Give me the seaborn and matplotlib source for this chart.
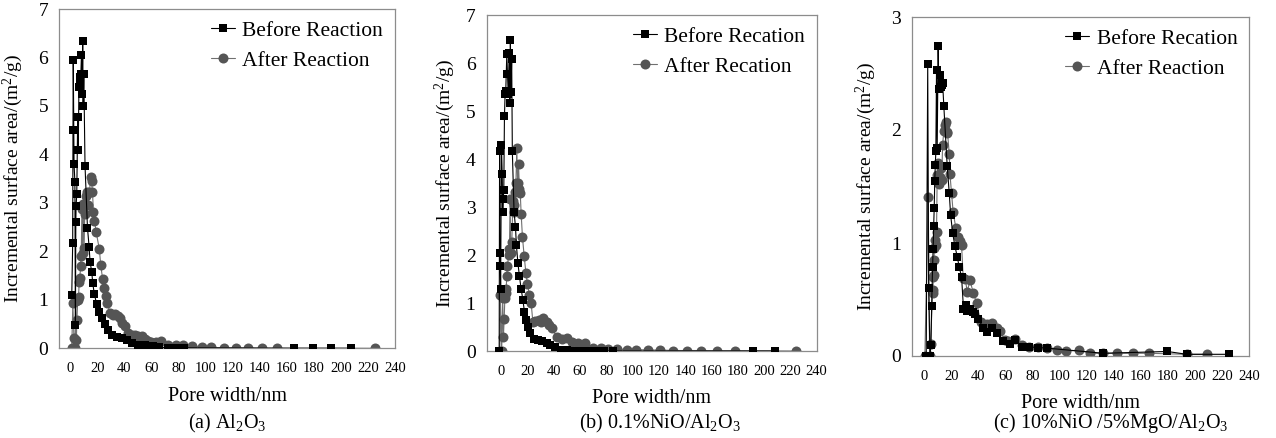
import matplotlib
matplotlib.use("Agg")
import matplotlib.pyplot as plt
import seaborn as sns

# ---------------- data ----------------
# Panel (a) Al2O3
a_before_x = [1.2, 1.9, 2.1, 2.3, 2.9, 3.5, 3.9, 4.2, 4.4, 4.9, 5.6, 6.0, 6.5, 7.0, 7.4, 7.9, 8.4, 8.9,
              9.3, 9.6, 10.1, 11.0, 12.8, 14.0, 14.7, 16.0, 16.7, 17.9, 19.6, 21.6, 23.3, 25.8, 28.2,
              30.7, 34.4, 38.0, 41.7, 45.4, 50.3, 55.0, 61.0, 66.0, 72.0, 78.0, 84.0,
              165.7, 179.2, 192.7, 207.4]
a_before_y = [1.09, 2.18, 4.5, 5.95, 3.8, 3.44, 0.48, 2.6, 2.94, 3.18, 4.77, 4.1, 5.4, 5.54, 5.6, 5.65,
              6.06, 5.24, 6.35, 5.0, 5.65, 3.77, 2.49, 2.1, 1.79, 1.57, 1.34, 1.12, 0.91, 0.75, 0.62,
              0.51, 0.37, 0.27, 0.24, 0.22, 0.18, 0.10, 0.06, 0.06, 0.04, 0.02, 0.01, 0.01, 0.01,
              0.0, 0.0, 0.0, 0.0]
a_after_x = [1.2, 2.0, 2.8, 3.5, 4.2, 4.6, 5.0, 5.6, 6.2, 6.7, 7.2, 7.7, 8.2, 8.7, 9.2, 9.8, 10.3, 10.8,
             11.5, 12.3, 13.0, 13.5, 14.3, 15.2, 15.8, 16.5, 17.2, 18.0, 19.3, 21.6, 22.6, 24.0, 25.2,
             26.5, 27.5, 29.5, 31.5, 33.2, 35.0, 36.5, 38.5, 40.5, 43.0, 45.5, 47.9, 50.5, 53.0, 55.5,
             57.7, 60.0, 63.5, 67.5, 72.4, 78.0, 83.4, 90.3, 97.7, 104.3, 113.4, 122.2, 131.3, 141.9,
             152.9, 225.0]
a_after_y = [0.0, 0.93, 0.22, 0.0, 0.97, 0.18, 0.58, 1.0, 1.06, 1.36, 1.45, 1.69, 1.9, 2.87, 1.97, 2.98,
             2.06, 2.78, 3.15, 3.22, 2.95, 3.2, 3.22, 3.53, 3.45, 3.23, 2.82, 2.63, 2.39, 2.04, 1.72,
             1.43, 1.25, 1.07, 0.94, 0.72, 0.69, 0.70, 0.66, 0.62, 0.53, 0.45, 0.32, 0.28, 0.27, 0.25,
             0.25, 0.20, 0.15, 0.12, 0.14, 0.15, 0.07, 0.06, 0.06, 0.05, 0.03, 0.02, 0.01, 0.01, 0.01,
             0.005, 0.005, 0.0]

# Panel (b) 0.1%NiO/Al2O3
b_before_x = [-1.5, -1.2, -1.0, -0.7, -0.4, 0.2, 0.8, 1.2, 1.6, 2.0, 2.5, 3.0, 3.5, 4.3, 4.8, 5.4, 6.1,
              6.6, 7.0, 7.5, 8.0, 8.5, 9.8, 10.9, 11.6, 12.7, 13.9, 15.2, 16.5, 17.7, 19.2, 20.5,
              22.3, 24.8, 27.9, 31.2, 34.5, 37.5, 41.3, 45.5, 50.0, 55.0, 60.0, 66.0, 72.0, 78.0,
              85.0, 191.9, 208.4]
b_before_y = [0.0, 4.16, 1.77, 2.05, 1.3, 4.3, 3.68, 2.89, 3.17, 3.35, 4.89, 5.35, 5.42, 6.19, 5.77,
              5.35, 6.21, 5.17, 6.48, 5.4, 6.08, 4.16, 2.9, 2.58, 2.2, 1.84, 1.56, 1.29, 1.07, 0.82,
              0.65, 0.49, 0.38, 0.26, 0.22, 0.21, 0.17, 0.12, 0.08, 0.03, 0.02, 0.01, 0.01, 0.005,
              0.0, 0.0, 0.0, 0.0, 0.0]
b_after_x = [-1.0, -0.6, 0.4, 1.2, 1.7, 2.3, 2.8, 3.3, 3.8, 4.3, 4.8, 5.6, 6.3, 6.8, 7.3, 8.1, 8.9, 9.5,
             10.1, 10.6, 11.2, 11.9, 12.5, 13.2, 13.9, 14.5, 15.2, 16.2, 17.5, 18.8, 20.0, 21.5, 22.8,
             24.1, 26.0, 28.4, 30.0, 32.2, 34.7, 36.5, 38.6, 42.4, 46.2, 50.0, 53.8, 58.8, 63.9, 70.2,
             75.8, 81.6, 88.4, 95.6, 102.7, 112.0, 120.9, 131.0, 141.2, 151.9, 164.5, 178.0, 224.3]
b_after_y = [0.0, 1.17, 0.0, 1.1, 0.3, 0.66, 1.1, 1.2, 1.29, 1.57, 1.77, 1.99, 2.13, 3.17, 2.05, 2.27,
             3.12, 3.05, 2.89, 3.31, 3.49, 4.22, 3.49, 3.89, 3.37, 3.3, 2.86, 2.37, 1.98, 1.63, 1.4,
             1.17, 1.0, 0.61, 0.62, 0.65, 0.6, 0.68, 0.61, 0.55, 0.47, 0.29, 0.26, 0.28, 0.19, 0.16,
             0.16, 0.07, 0.06, 0.05, 0.04, 0.03, 0.03, 0.02, 0.02, 0.01, 0.01, 0.01, 0.005, 0.005, 0.0]

# Panel (c) 10%NiO/5%MgO/Al2O3
c_before_x = [1.5, 2.6, 3.3, 4.3, 5.0, 5.5, 6.2, 6.6, 7.0, 7.4, 7.8, 8.2, 8.6, 9.1, 9.6, 10.3, 10.8,
              11.5, 12.1, 12.9, 13.6, 14.5, 17.0, 18.5, 19.5, 21.0, 22.7, 24.4, 25.8, 27.6, 29.0,
              30.5, 31.8, 33.8, 35.7, 37.5, 39.9, 43.6, 46.5, 49.8, 53.5, 58.4, 63.3, 67.0, 71.9,
              77.6, 84.2, 90.4, 132.3, 179.5, 193.8, 225.3]
c_before_y = [0.0, 2.58, 0.6, 0.0, 0.1, 0.44, 0.79, 0.95, 1.15, 1.31, 1.55, 1.69, 1.81, 2.53, 1.84,
              2.74, 2.36, 2.49, 2.38, 2.4, 2.42, 2.21, 1.68, 1.44, 1.25, 1.09, 0.97, 0.88, 0.79, 0.70,
              0.42, 0.45, 0.40, 0.42, 0.39, 0.37, 0.33, 0.25, 0.21, 0.25, 0.2, 0.13, 0.11, 0.14, 0.08,
              0.08, 0.075, 0.07, 0.024, 0.04, 0.015, 0.015]
c_after_x = [0.5, 3.0, 4.0, 4.7, 6.2, 6.5, 6.7, 7.0, 7.2, 7.6, 7.9, 8.5, 9.1, 9.6, 10.3, 10.8, 11.1,
             11.6, 12.2, 12.9, 13.6, 14.5, 15.2, 16.0, 16.5, 17.2, 18.5, 19.0, 20.2, 21.4, 23.4, 25.1,
             26.3, 27.6, 28.8, 30.3, 31.8, 33.8, 36.2, 38.7, 41.7, 44.0, 46.1, 49.8, 53.5, 56.0, 59.6,
             62.0, 67.0, 72.0, 77.6, 84.2, 90.4, 97.8, 104.7, 114.3, 122.4, 132.3, 142.6, 154.0,
             166.2, 193.8, 208.6]
c_after_y = [0.0, 1.41, 0.0, 0.11, 0.56, 0.58, 0.7, 0.72, 0.85, 0.96, 1.03, 0.98, 1.1, 1.6, 1.71, 1.55,
             1.52, 1.58, 1.66, 1.56, 1.87, 1.99, 2.04, 2.07, 1.97, 1.98, 1.79, 1.61, 1.44, 1.27, 1.13,
             1.05, 1.02, 0.98, 0.69, 0.68, 0.57, 0.67, 0.56, 0.47, 0.30, 0.27, 0.28, 0.29, 0.25, 0.22,
             0.14, 0.13, 0.15, 0.10, 0.08, 0.08, 0.07, 0.053, 0.04, 0.053, 0.024, 0.024, 0.024, 0.024,
             0.024, 0.015, 0.015]

x_ticks = [0, 20, 40, 60, 80, 100, 120, 140, 160, 180, 200, 220, 240]

panels = [
    dict(bx=a_before_x, by=a_before_y, ax_=a_after_x, ay=a_after_y,
         labels=("Before Reaction", "After Reaction"), ymax=7, yticks=range(0, 8),
         xmin=-8, caption=r"(a) Al$\mathregular{_2}$O$\mathregular{_3}$",
         rect=(59.3, 9, 395, 348.3), ylab_x=-0.102, cap_x=227),
    dict(bx=b_before_x, by=b_before_y, ax_=b_after_x, ay=b_after_y,
         labels=("Before Recation", "After Recation"), ymax=7, yticks=range(0, 8),
         xmin=-11, caption=r"(b) 0.1%NiO/Al$\mathregular{_2}$O$\mathregular{_3}$",
         rect=(486.7, 15, 816.7, 351), ylab_x=-0.09, cap_x=660),
    dict(bx=c_before_x, by=c_before_y, ax_=c_after_x, ay=c_after_y,
         labels=("Before Recation", "After Reaction"), ymax=3, yticks=range(0, 4),
         xmin=-9, caption=r"(c) 10%NiO /5%MgO/Al$\mathregular{_2}$O$\mathregular{_3}$",
         rect=(912, 17, 1249.3, 356), ylab_x=-0.10, cap_x=1111),
]

# ---------------- styling ----------------
sns.set_theme(style="white")
plt.rcParams["font.family"] = ["Liberation Serif", "DejaVu Serif"]
plt.rcParams["mathtext.fontset"] = "custom"
plt.rcParams["mathtext.rm"] = "Liberation Serif"
plt.rcParams["mathtext.it"] = "Liberation Serif:italic"
plt.rcParams["mathtext.bf"] = "Liberation Serif:bold"
plt.rcParams["text.color"] = "black"
plt.rcParams["axes.labelcolor"] = "black"
plt.rcParams["xtick.labelcolor"] = "black"
plt.rcParams["ytick.labelcolor"] = "black"

W, H = 1276, 438
fig = plt.figure(figsize=(W / 100, H / 100), dpi=100)

for p in panels:
    l, t, r, b = p["rect"]
    ax = fig.add_axes([l / W, 1 - b / H, (r - l) / W, (b - t) / H])
    sns.lineplot(x=p["ax_"], y=p["ay"], ax=ax, color="#707070", linewidth=0.8,
                 marker="o", markersize=7.2, markerfacecolor="#555555",
                 markeredgewidth=0, estimator=None, sort=False,
                 label=p["labels"][1], zorder=2)
    sns.lineplot(x=p["bx"], y=p["by"], ax=ax, color="black", linewidth=0.8,
                 marker="s", markersize=6.2, markeredgewidth=0,
                 estimator=None, sort=False, label=p["labels"][0], zorder=3)
    ax.set_xlim(p["xmin"], 240)
    ax.set_ylim(0, p["ymax"])
    ax.set_xticks(x_ticks)
    ax.set_yticks(list(p["yticks"]))
    for s in ax.spines.values():
        s.set_color("#8c8c8c")
        s.set_linewidth(0.9)
    ax.tick_params(axis="both", direction="out", length=3, width=0.8, color="#8c8c8c",
                   labelcolor="black")
    ax.tick_params(axis="x", labelsize=10.5, pad=7)
    ax.tick_params(axis="y", labelsize=14, pad=5)
    ax.set_xlabel("Pore width/nm", fontsize=14.5)
    ax.xaxis.set_label_coords(0.5, -0.113)
    ax.set_ylabel(r"Incremental surface area/(m$\mathregular{^2}$/g)", fontsize=14)
    ax.yaxis.set_label_coords(p["ylab_x"], 0.5)
    h, lab = ax.get_legend_handles_labels()
    ax.legend(h[::-1], lab[::-1], loc="upper right", frameon=False, fontsize=15.5,
              handlelength=1.1, handletextpad=0.35, labelspacing=0.45,
              borderaxespad=0.35, borderpad=0.2)
    fig.text(p["cap_x"] / W, 1 - 423 / H, p["caption"], ha="center", va="center",
             fontsize=14.5)

fig.savefig("out.png", dpi=100, facecolor="white")
